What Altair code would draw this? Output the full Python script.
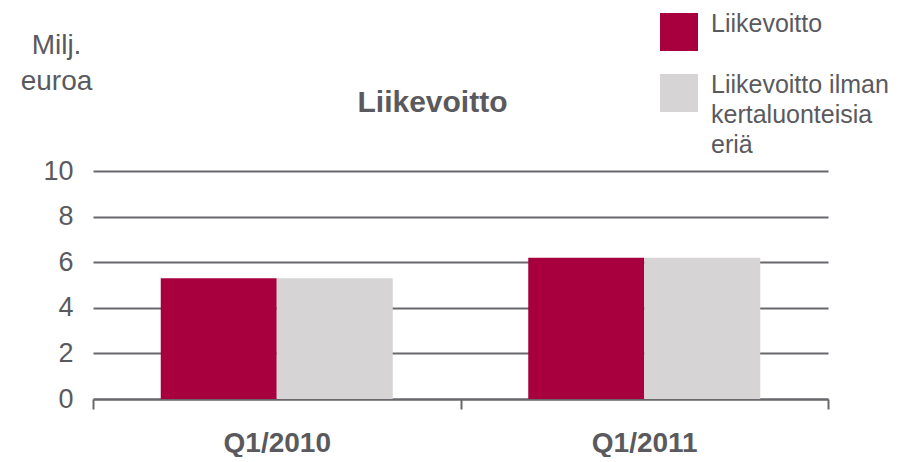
import altair as alt
import pandas as pd

categories = ["Q1/2010", "Q1/2011"]
series = ["Liikevoitto", "Liikevoitto ilman kertaluonteisia eriä"]
liikevoitto = [5.3, 6.2]
ilman_kertaluonteisia = [5.3, 6.2]
y_ticks = [0, 2, 4, 6, 8, 10]

rows = []
for i, c in enumerate(categories):
    rows.append({"kausi": c, "sarja": series[0], "arvo": liikevoitto[i]})
    rows.append({"kausi": c, "sarja": series[1], "arvo": ilman_kertaluonteisia[i]})
df = pd.DataFrame(rows)

TXT = "#5a5a5e"
GRID = "#68686c"
FONT = "Liberation Sans"

bars = alt.Chart(df).mark_bar().encode(
    x=alt.X("kausi:N", sort=categories,
            scale=alt.Scale(paddingInner=0, paddingOuter=0),
            axis=alt.Axis(title=None, labelAngle=0, labelFontSize=28, labelFontWeight="bold",
                          labelColor=TXT, labelFont=FONT, labelPadding=20,
                          tickBand="extent", ticks=True, tickSize=10, tickColor=GRID, tickWidth=2,
                          domainColor=GRID, domainWidth=2, grid=False)),
    xOffset=alt.XOffset("sarja:N", sort=series,
                        scale=alt.Scale(paddingInner=0, paddingOuter=0.584)),
    y=alt.Y("arvo:Q", scale=alt.Scale(domain=[0, 10]),
            axis=alt.Axis(values=y_ticks, title=["Milj.", "euroa"], titleAngle=0,
                          titleFontSize=28, titleFontWeight="normal", titleColor=TXT, titleFont=FONT,
                          titleAlign="center", titleBaseline="alphabetic", titleLineHeight=36,
                          titleX=-37, titleY=-118,
                          labelFontSize=27, labelColor=TXT, labelFont=FONT, labelPadding=20,
                          ticks=False, tickSize=0, domain=False,
                          grid=True, gridColor=GRID, gridWidth=2)),
    color=alt.Color("sarja:N", sort=series,
                    scale=alt.Scale(domain=series, range=["#a8003f", "#d6d4d5"]),
                    legend=alt.Legend(title=None, orient="none", legendX=567, legendY=-158,
                                      symbolType="square", symbolSize=1444, symbolStrokeWidth=0,
                                      symbolOpacity=1,
                                      labelFontSize=25, labelColor=TXT, labelFont=FONT,
                                      labelBaseline="alphabetic", labelOffset=13, labelLimit=400,
                                      rowPadding=22,
                                      labelExpr="datum.label == 'Liikevoitto ilman kertaluonteisia eriä' ? ['Liikevoitto ilman', 'kertaluonteisia', 'eriä'] : datum.label")),
)

chart = bars.properties(
    width=735,
    height=228,
    title=alt.TitleParams("Liikevoitto", fontSize=30, fontWeight="bold", color=TXT, font=FONT,
                          anchor="middle", frame="group", dx=-28, dy=109),
    autosize=alt.AutoSizeParams(type="none"),
    padding={"left": 85, "top": 163, "right": 69, "bottom": 58},
).configure(style={"guide-label": {"lineHeight": 30}}).configure_view(stroke=None)

chart.save("out.html", embed_options={"renderer": "svg", "actions": False})
